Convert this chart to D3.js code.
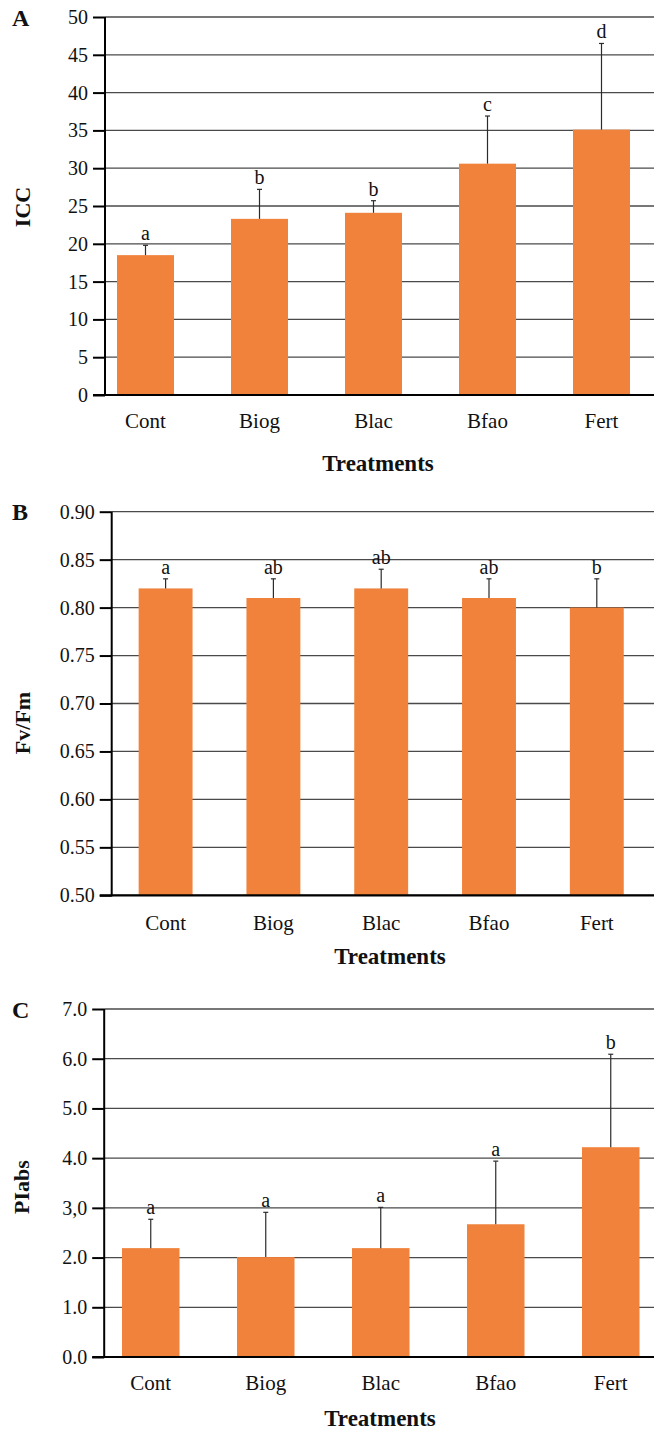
<!DOCTYPE html>
<html>
<head>
<meta charset="utf-8">
<script src="https://cdn.jsdelivr.net/npm/d3@7"></script>
<style>
  body { margin: 0; background: #fff; }
  svg { display: block; }
  svg text { font-family: "Liberation Serif", "Times New Roman", serif; fill: #111; }
</style>
</head>
<body>
<svg id="chart" width="654" height="1432"></svg>
<script>
// data
let treatments = ["Cont", "Biog", "Blac", "Bfao", "Fert"];

let iccMean = [18.5, 23.3, 24.1, 30.6, 35.1];
let iccErr = [1.3, 3.9, 1.6, 6.3, 11.4];
let iccLetters = ["a", "b", "b", "c", "d"];
let iccTicks = [0, 5, 10, 15, 20, 25, 30, 35, 40, 45, 50];

let fvfmMean = [0.82, 0.81, 0.82, 0.81, 0.80];
let fvfmErr = [0.01, 0.02, 0.02, 0.02, 0.03];
let fvfmLetters = ["a", "ab", "ab", "ab", "b"];
let fvfmTicks = [0.50, 0.55, 0.60, 0.65, 0.70, 0.75, 0.80, 0.85, 0.90];

let piMean = [2.19, 2.01, 2.19, 2.67, 4.22];
let piErr = [0.58, 0.90, 0.82, 1.27, 1.87];
let piLetters = ["a", "a", "a", "a", "b"];
let piTicks = [0, 1, 2, 3, 4, 5, 6, 7];
let piTickLabels = ["0.0", "1.0", "2.0", "3,0", "4.0", "5.0", "6.0", "7.0"];

let barColor = "#f0823b";
let serif = "Liberation Serif, Times New Roman, serif";
let svg = d3.select("#chart");

function drawPanel(p) {
    let g = svg.append("g");

    let y = d3.scaleLinear()
        .domain(p.domain)
        .range([p.yBottom, p.yTop]);

    let x = d3.scaleBand()
        .domain(treatments)
        .range(p.xRange)
        .paddingInner(0.5)
        .paddingOuter(0.25);

    //gridlines
    g.append("g")
        .selectAll("line")
        .data(p.ticks)
        .enter()
        .append("line")
        .attr("x1", p.axisX)
        .attr("x2", 654)
        .attr("y1", d => y(d))
        .attr("y2", d => y(d))
        .attr("stroke", "#4a4a4a")
        .attr("stroke-width", 1.3);

    //bars
    g.append("g")
        .selectAll("rect")
        .data(p.mean)
        .enter()
        .append("rect")
        .attr("x", (d, i) => x(treatments[i]))
        .attr("width", x.bandwidth())
        .attr("y", d => y(d))
        .attr("height", d => y(p.domain[0]) - y(d))
        .attr("fill", barColor);

    //error bars (upper only)
    let errs = g.append("g")
        .selectAll("g")
        .data(p.mean)
        .enter()
        .append("g")
        .attr("stroke", "#2b2b2b")
        .attr("stroke-width", 1.2);

    errs.append("line")
        .attr("x1", (d, i) => x(treatments[i]) + x.bandwidth() / 2)
        .attr("x2", (d, i) => x(treatments[i]) + x.bandwidth() / 2)
        .attr("y1", d => y(d))
        .attr("y2", (d, i) => y(d + p.err[i]));

    errs.append("line")
        .attr("x1", (d, i) => x(treatments[i]) + x.bandwidth() / 2 - 2.5)
        .attr("x2", (d, i) => x(treatments[i]) + x.bandwidth() / 2 + 2.5)
        .attr("y1", (d, i) => y(d + p.err[i]))
        .attr("y2", (d, i) => y(d + p.err[i]));

    //significance letters
    g.append("g")
        .selectAll("text")
        .data(p.letters)
        .enter()
        .append("text")
        .attr("x", (d, i) => x(treatments[i]) + x.bandwidth() / 2)
        .attr("y", (d, i) => y(p.mean[i] + p.err[i]) - 5)
        .attr("text-anchor", "middle")
        .style("font-size", "20px")
        .text(d => d);

    //y axis
    let yAxis = d3.axisLeft(y)
        .tickValues(p.ticks)
        .tickSize(12)
        .tickPadding(5)
        .tickFormat(p.format);

    let ya = g.append("g")
        .attr("transform", "translate(" + p.axisX + ",0)")
        .call(yAxis)
        .attr("font-family", serif)
        .attr("font-size", 20);
    ya.select(".domain").remove();
    ya.selectAll(".tick line").attr("stroke", "#000").attr("stroke-width", 2);
    ya.selectAll(".tick text").attr("fill", "#111");

    g.append("line")
        .attr("x1", p.axisX)
        .attr("x2", p.axisX)
        .attr("y1", p.yTop)
        .attr("y2", p.yBottom + 1)
        .attr("stroke", "#000")
        .attr("stroke-width", 2);

    g.append("line")
        .attr("x1", p.axisX - 12)
        .attr("x2", 654)
        .attr("y1", p.yBottom)
        .attr("y2", p.yBottom)
        .attr("stroke", "#000")
        .attr("stroke-width", 2.2);

    //category labels
    g.append("g")
        .selectAll("text")
        .data(treatments)
        .enter()
        .append("text")
        .attr("x", d => x(d) + x.bandwidth() / 2)
        .attr("y", p.catY)
        .attr("text-anchor", "middle")
        .style("font-size", "21px")
        .text(d => d);

    //axis titles
    g.append("text")
        .attr("x", p.titleX)
        .attr("y", p.titleY)
        .attr("text-anchor", "middle")
        .style("font-size", "23px")
        .style("font-weight", "bold")
        .text("Treatments");

    g.append("text")
        .attr("transform", "translate(" + p.yLabelX + "," + p.yLabelY + ") rotate(-90)")
        .attr("text-anchor", "middle")
        .style("font-size", "22px")
        .style("font-weight", "bold")
        .text(p.yLabel);

    //panel letter
    g.append("text")
        .attr("x", 12)
        .attr("y", p.letterY)
        .style("font-size", "24px")
        .style("font-weight", "bold")
        .text(p.panel);
}

drawPanel({
    panel: "A", letterY: 26,
    mean: iccMean, err: iccErr, letters: iccLetters,
    ticks: iccTicks, format: d => d, domain: [0, 50],
    axisX: 105, yTop: 17, yBottom: 395, xRange: [88.5, 658.5],
    catY: 428, titleX: 378, titleY: 471,
    yLabel: "ICC", yLabelX: 30, yLabelY: 207
});

drawPanel({
    panel: "B", letterY: 520,
    mean: fvfmMean, err: fvfmErr, letters: fvfmLetters,
    ticks: fvfmTicks, format: d3.format(".2f"), domain: [0.50, 0.90],
    axisX: 111.7, yTop: 511.7, yBottom: 895.3, xRange: [111.7, 650.7],
    catY: 930, titleX: 390, titleY: 964,
    yLabel: "Fv/Fm", yLabelX: 30, yLabelY: 723
});

drawPanel({
    panel: "C", letterY: 1018,
    mean: piMean, err: piErr, letters: piLetters,
    ticks: piTicks, format: (d, i) => piTickLabels[i], domain: [0, 7],
    axisX: 104.2, yTop: 1009, yBottom: 1357, xRange: [93.25, 668.25],
    catY: 1390, titleX: 380, titleY: 1426,
    yLabel: "PIabs", yLabelX: 29, yLabelY: 1187
});
</script>
</body>
</html>
